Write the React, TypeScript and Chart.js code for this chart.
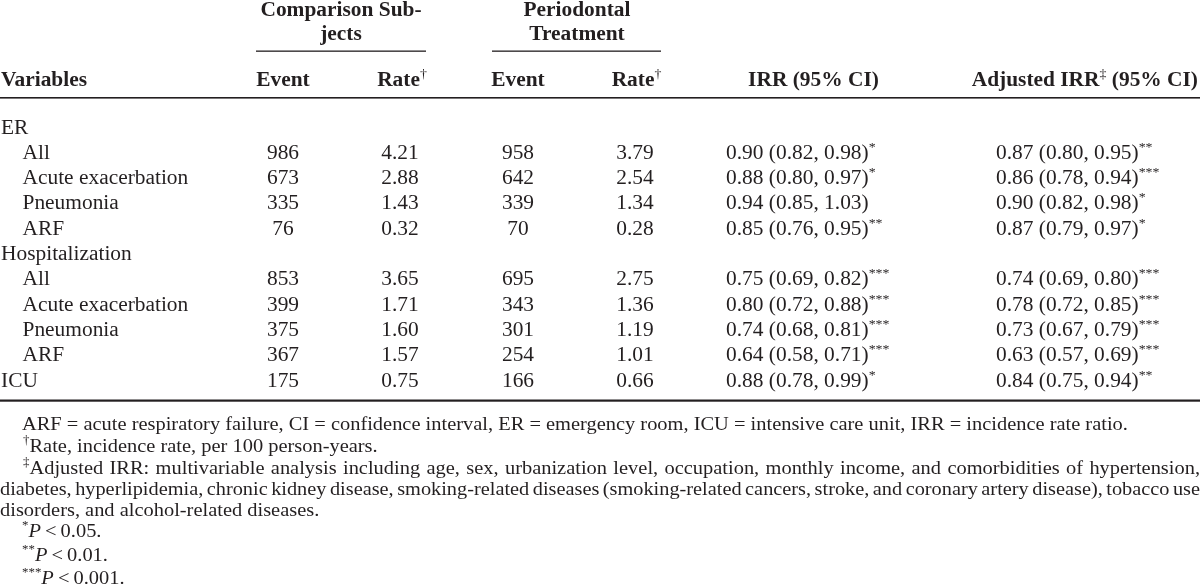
import React, { useEffect, useRef } from "react";
import { Chart, registerables } from "chart.js";

Chart.register(...registerables);

// ---------------- DATA ----------------
const variables = [
  "ER",
  "All",
  "Acute exacerbation",
  "Pneumonia",
  "ARF",
  "Hospitalization",
  "All",
  "Acute exacerbation",
  "Pneumonia",
  "ARF",
  "ICU",
];
const isSubRow = [false, true, true, true, true, false, true, true, true, true, false];

const compEvent = [null, 986, 673, 335, 76, null, 853, 399, 375, 367, 175];
const compRate = [null, 4.21, 2.88, 1.43, 0.32, null, 3.65, 1.71, 1.6, 1.57, 0.75];
const perioEvent = [null, 958, 642, 339, 70, null, 695, 343, 301, 254, 166];
const perioRate = [null, 3.79, 2.54, 1.34, 0.28, null, 2.75, 1.36, 1.19, 1.01, 0.66];

const irrEst = [null, 0.9, 0.88, 0.94, 0.85, null, 0.75, 0.8, 0.74, 0.64, 0.88];
const irrLow = [null, 0.82, 0.8, 0.85, 0.76, null, 0.69, 0.72, 0.68, 0.58, 0.78];
const irrHigh = [null, 0.98, 0.97, 1.03, 0.95, null, 0.82, 0.88, 0.81, 0.71, 0.99];
const irrStars = [0, 1, 1, 0, 2, 0, 3, 3, 3, 3, 1];

const adjEst = [null, 0.87, 0.86, 0.9, 0.87, null, 0.74, 0.78, 0.73, 0.63, 0.84];
const adjLow = [null, 0.8, 0.78, 0.82, 0.79, null, 0.69, 0.72, 0.67, 0.57, 0.75];
const adjHigh = [null, 0.95, 0.94, 0.98, 0.97, null, 0.8, 0.85, 0.79, 0.69, 0.94];
const adjStars = [0, 2, 3, 1, 1, 0, 3, 3, 3, 3, 2];

const groupHeaders = [
  ["Comparison Sub-", "jects"],
  ["Periodontal", "Treatment"],
];
const colHeaders = ["Variables", "Event", "Rate", "Event", "Rate", "IRR (95% CI)", "Adjusted IRR"];

const footAbbrev =
  "ARF = acute respiratory failure, CI = confidence interval, ER = emergency room, ICU = intensive care unit, IRR = incidence rate ratio.";
const footRate = "Rate, incidence rate, per 100 person-years.";
const footAdjLines = [
  "Adjusted IRR: multivariable analysis including age, sex, urbanization level, occupation, monthly income, and comorbidities of hypertension,",
  "diabetes, hyperlipidemia, chronic kidney disease, smoking-related diseases (smoking-related cancers, stroke, and coronary artery disease), tobacco use",
  "disorders, and alcohol-related diseases.",
];
const pThresholds = ["0.05", "0.01", "0.001"];

// ---------------- LAYOUT / STYLE ----------------
const W = 1200;
const H = 587;
const FAMILY = '"Liberation Serif", "Times New Roman", serif';
const FS = 20;
const SX = 1.07;
const FOOT_FS = 19;
const FOOT_SX = 1.075;
const INK = "#231f20";

const ROW0 = 133.5;
const ROW_STEP = 25.3;
const INDENT = 21.5;

const COL_VAR = 1;
const COL_CE = 283;
const COL_CR = 400;
const COL_PE = 518;
const COL_PR = 635;
const COL_IRR = 726;
const COL_ADJ = 996;

type Seg = { t: string; sup?: boolean; bold?: boolean; italic?: boolean };
type Style = { fs: number; sx: number };
const BODY: Style = { fs: FS, sx: SX };
const FOOT: Style = { fs: FOOT_FS, sx: FOOT_SX };

function fontOf(s: Seg, st: Style) {
  const size = s.sup ? Math.round(st.fs * 0.65) : st.fs;
  return `${s.italic ? "italic " : ""}${s.bold ? "bold " : ""}${size}px ${FAMILY}`;
}

function segWidth(ctx: CanvasRenderingContext2D, s: Seg, st: Style) {
  ctx.font = fontOf(s, st);
  return ctx.measureText(s.t).width * st.sx;
}

function drawRich(
  ctx: CanvasRenderingContext2D,
  segs: Seg[],
  x: number,
  y: number,
  align: "left" | "center" | "right",
  st: Style = BODY
) {
  const widths = segs.map((s) => segWidth(ctx, s, st));
  const total = widths.reduce((a, b) => a + b, 0);
  let cx = align === "left" ? x : align === "center" ? x - total / 2 : x - total;
  segs.forEach((s, i) => {
    ctx.save();
    ctx.font = fontOf(s, st);
    ctx.fillStyle = INK;
    ctx.textAlign = "left";
    ctx.textBaseline = "alphabetic";
    ctx.translate(cx, y - (s.sup ? st.fs * 0.4 : 0));
    ctx.scale(st.sx, 1);
    ctx.fillText(s.t, 0, 0);
    ctx.restore();
    cx += widths[i];
  });
  return total;
}

function drawJustified(
  ctx: CanvasRenderingContext2D,
  text: string,
  x0: number,
  x1: number,
  y: number,
  st: Style
) {
  const words = text.split(" ");
  ctx.font = fontOf({ t: "" }, st);
  const ws = words.map((w) => ctx.measureText(w).width * st.sx);
  const sumW = ws.reduce((a, b) => a + b, 0);
  const width = x1 - x0;
  let gap = (width - sumW) / (words.length - 1);
  let s = 1;
  const minGap = 3.5;
  if (gap < minGap) {
    s = (width - minGap * (words.length - 1)) / sumW;
    gap = minGap;
  }
  let cx = x0;
  words.forEach((w, i) => {
    ctx.save();
    ctx.font = fontOf({ t: "" }, st);
    ctx.fillStyle = INK;
    ctx.textAlign = "left";
    ctx.textBaseline = "alphabetic";
    ctx.translate(cx, y);
    ctx.scale(st.sx * s, 1);
    ctx.fillText(w, 0, 0);
    ctx.restore();
    cx += ws[i] * s + gap;
  });
}

const fmt2 = (v: number) => v.toFixed(2);
const stars = (n: number) => "*".repeat(n);

type ColumnDef = {
  x: number;
  align: "left" | "center" | "right";
  cell: (i: number) => Seg[] | null;
};

const columns: ColumnDef[] = [
  { x: COL_VAR, align: "left", cell: (i) => [{ t: variables[i] }] },
  { x: COL_CE, align: "center", cell: (i) => (compEvent[i] == null ? null : [{ t: String(compEvent[i]) }]) },
  { x: COL_CR, align: "center", cell: (i) => (compRate[i] == null ? null : [{ t: fmt2(compRate[i] as number) }]) },
  { x: COL_PE, align: "center", cell: (i) => (perioEvent[i] == null ? null : [{ t: String(perioEvent[i]) }]) },
  { x: COL_PR, align: "center", cell: (i) => (perioRate[i] == null ? null : [{ t: fmt2(perioRate[i] as number) }]) },
  {
    x: COL_IRR,
    align: "left",
    cell: (i) =>
      irrEst[i] == null
        ? null
        : [
            { t: `${fmt2(irrEst[i] as number)} (${fmt2(irrLow[i] as number)}, ${fmt2(irrHigh[i] as number)})` },
            { t: stars(irrStars[i]), sup: true },
          ],
  },
  {
    x: COL_ADJ,
    align: "left",
    cell: (i) =>
      adjEst[i] == null
        ? null
        : [
            { t: `${fmt2(adjEst[i] as number)} (${fmt2(adjLow[i] as number)}, ${fmt2(adjHigh[i] as number)})` },
            { t: stars(adjStars[i]), sup: true },
          ],
  },
];

const tablePlugin = {
  id: "tableText",
  afterDatasetsDraw(chart: any) {
    const ctx: CanvasRenderingContext2D = chart.ctx;
    const xs = chart.scales.x;
    const ys = chart.scales.y;
    const px = (v: number) => xs.getPixelForValue(v);
    const py = (v: number) => ys.getPixelForValue(v);

    ctx.save();
    ctx.fillStyle = INK;

    // group headers
    drawRich(ctx, [{ t: groupHeaders[0][0], bold: true }], px(341), py(16), "center");
    drawRich(ctx, [{ t: groupHeaders[0][1], bold: true }], px(341), py(39.5), "center");
    drawRich(ctx, [{ t: groupHeaders[1][0], bold: true }], px(577), py(16), "center");
    drawRich(ctx, [{ t: groupHeaders[1][1], bold: true }], px(577), py(39.5), "center");
    ctx.fillStyle = INK;
    ctx.fillRect(px(256), py(50.5), px(426) - px(256), 1.3);
    ctx.fillRect(px(492), py(50.5), px(661) - px(492), 1.3);

    // column headers
    const hy = py(86);
    drawRich(ctx, [{ t: colHeaders[0], bold: true }], px(1), hy, "left");
    drawRich(ctx, [{ t: colHeaders[1], bold: true }], px(COL_CE), hy, "center");
    drawRich(ctx, [{ t: colHeaders[2], bold: true }, { t: "\u2020", sup: true }], px(402), hy, "center");
    drawRich(ctx, [{ t: colHeaders[3], bold: true }], px(COL_PE), hy, "center");
    drawRich(ctx, [{ t: colHeaders[4], bold: true }, { t: "\u2020", sup: true }], px(636.5), hy, "center");
    drawRich(ctx, [{ t: colHeaders[5], bold: true }], px(813.5), hy, "center");
    drawRich(
      ctx,
      [{ t: colHeaders[6], bold: true }, { t: "\u2021", sup: true }, { t: " (95% CI)", bold: true }],
      px(1198),
      hy,
      "right"
    );
    ctx.fillStyle = INK;
    ctx.fillRect(px(0), py(97), W, 1.6);

    // body cells, positioned by the scatter points
    columns.forEach((col, c) => {
      const meta = chart.getDatasetMeta(c);
      meta.data.forEach((el: any, i: number) => {
        const segs = col.cell(i);
        if (!segs) return;
        drawRich(ctx, segs, el.x, el.y, col.align);
      });
    });

    // bottom rule
    ctx.fillStyle = INK;
    ctx.fillRect(px(0), py(399.5), W, 2.2);

    // footnotes
    drawRich(ctx, [{ t: footAbbrev }], px(22), py(430), "left", FOOT);
    drawRich(ctx, [{ t: "\u2020", sup: true }, { t: footRate }], px(23), py(452), "left", FOOT);
    const dW = drawRich(ctx, [{ t: "\u2021", sup: true }], px(23), py(474), "left", FOOT);
    drawJustified(ctx, footAdjLines[0], px(23) + dW, px(1200), py(474), FOOT);
    drawJustified(ctx, footAdjLines[1], px(0), px(1200), py(495), FOOT);
    drawRich(ctx, [{ t: footAdjLines[2] }], px(0), py(516), "left", FOOT);
    const pY = [537, 561, 584];
    pThresholds.forEach((p, k) => {
      drawRich(
        ctx,
        [
          { t: stars(k + 1), sup: true },
          { t: "P", italic: true },
          { t: "\u2009<\u2009" + p + "." },
        ],
        px(22),
        py(pY[k]),
        "left",
        FOOT
      );
    });
    ctx.restore();
  },
};

export default function App() {
  const ref = useRef<HTMLCanvasElement | null>(null);
  useEffect(() => {
    document.body.style.margin = "0";
    const canvas = ref.current;
    if (!canvas) return;
    const datasets = columns.map((col, c) => ({
      label: `col${c}`,
      data: variables.map((_, i) => ({
        x: col.x + (c === 0 && isSubRow[i] ? INDENT : 0),
        y: ROW0 + i * ROW_STEP,
      })),
      pointRadius: 0,
      pointHoverRadius: 0,
      showLine: false,
    }));
    const chart = new Chart(canvas, {
      type: "scatter",
      data: { datasets },
      options: {
        animation: false,
        responsive: false,
        maintainAspectRatio: false,
        events: [],
        layout: { padding: 0 },
        plugins: {
          legend: { display: false },
          tooltip: { enabled: false },
          title: { display: false },
        },
        scales: {
          x: { type: "linear", min: 0, max: W, display: false },
          y: { type: "linear", min: 0, max: H, reverse: true, display: false },
        },
      },
      plugins: [tablePlugin as any],
    });
    return () => chart.destroy();
  }, []);
  return (
    <div style={{ width: W, height: H, background: "#fff" }}>
      <canvas ref={ref} width={W} height={H} style={{ display: "block" }} />
    </div>
  );
}
